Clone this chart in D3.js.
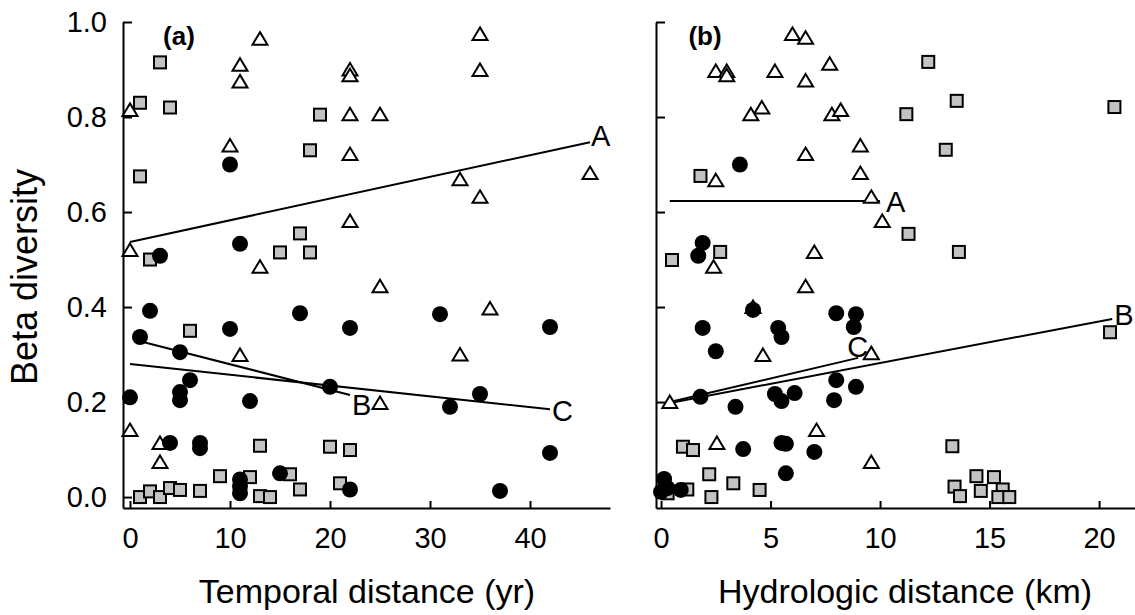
<!doctype html>
<html>
<head>
    <meta charset="utf-8" />
    <title>Beta diversity</title>
    <style>
        body { margin: 0; background: #fff; }
        svg text { font-family: "Liberation Sans", Arial, sans-serif; fill: #000; }
        .axis path, .axis line { stroke: #000; stroke-width: 2; }
        .circ { fill: #000; }
        .sq { fill: #c3c3c3; stroke: #000; stroke-width: 2; }
        .tri { fill: #fff; stroke: #000; stroke-width: 2; }
        .fit { stroke: #000; stroke-width: 2; fill: none; }
    </style>
</head>
<body>
    <script src="https://cdn.jsdelivr.net/npm/d3@7"></script>
    <script>
        // panel (a): temporal distance (yr) vs beta diversity
        var circlesA = [[10,0.70],[11,0.533],[3,0.508],[2,0.392],[1,0.337],[10,0.354],[17,0.387],[22,0.356],
            [5,0.305],[6,0.246],[5,0.221],[5,0.204],[0,0.21],[12,0.202],[20,0.232],[4,0.114],[7,0.114],
            [7,0.103],[11,0.037],[11,0.022],[11,0.008],[15,0.05],[22,0.016],[31,0.385],[42,0.358],
            [35,0.217],[32,0.19],[42,0.093],[37,0.013]];
        var squaresA = [[3,0.915],[1,0.83],[4,0.82],[1,0.675],[19,0.805],[18,0.73],[17,0.555],[15,0.515],
            [18,0.515],[2,0.50],[6,0.35],[13,0.108],[20,0.106],[22,0.099],[9,0.044],[12,0.042],[16,0.048],
            [21,0.029],[1,0.0],[2,0.012],[3,0.0],[4,0.019],[5,0.015],[7,0.013],[13,0.002],[14,0.0],[17,0.016]];
        var trianglesA = [[0,0.815],[13,0.965],[11,0.91],[11,0.875],[10,0.74],[22,0.90],[22,0.888],[22,0.806],
            [25,0.806],[22,0.722],[22,0.581],[0,0.52],[13,0.485],[25,0.444],[35,0.975],[35,0.899],[33,0.669],
            [46,0.682],[35,0.632],[36,0.397],[33,0.30],[25,0.198],[11,0.299],[0,0.141],[3,0.114],[3,0.074]];
        var linesA = [
            { name: "A", pts: [[0,0.537],[46,0.747]] },
            { name: "B", pts: [[1,0.328],[22,0.215]] },
            { name: "C", pts: [[0,0.28],[42,0.185]] }
        ];

        // panel (b): hydrologic distance (km) vs beta diversity
        var circlesB = [[3.6,0.70],[1.9,0.535],[1.7,0.508],[4.2,0.394],[1.9,0.356],[5.35,0.356],[5.5,0.337],
            [2.5,0.307],[8.0,0.387],[8.9,0.385],[8.8,0.358],[1.8,0.211],[3.4,0.19],[5.2,0.217],[5.5,0.202],
            [6.1,0.219],[8.0,0.246],[8.9,0.232],[7.9,0.204],[3.75,0.101],[5.5,0.114],[5.7,0.112],[7.0,0.095],
            [5.7,0.05],[0.14,0.038],[0.0,0.011],[0.3,0.019],[0.9,0.015]];
        var squaresB = [[1.8,0.676],[2.7,0.516],[0.5,0.499],[12.2,0.916],[13.5,0.834],[11.2,0.806],[20.7,0.821],
            [13.0,0.731],[11.3,0.554],[13.6,0.516],[20.5,0.347],[13.3,0.107],[14.4,0.044],[15.2,0.042],
            [13.4,0.022],[13.65,0.002],[14.6,0.013],[15.6,0.016],[15.4,0.0],[15.9,0.0],[1.0,0.106],[1.46,0.099],
            [2.2,0.048],[3.3,0.029],[4.5,0.015],[1.2,0.016],[2.3,0.0],[0.3,0.008]];
        var trianglesB = [[6.0,0.975],[6.6,0.967],[7.7,0.912],[2.5,0.897],[3.0,0.897],[3.0,0.888],[5.2,0.897],
            [6.6,0.877],[4.6,0.82],[4.1,0.806],[7.8,0.806],[8.2,0.815],[9.1,0.74],[6.6,0.722],[9.1,0.682],
            [2.5,0.667],[9.6,0.632],[10.1,0.581],[7.0,0.516],[2.4,0.485],[6.6,0.444],[4.65,0.299],[0.4,0.2],
            [9.6,0.303],[2.55,0.114],[7.1,0.141],[9.6,0.074],[4.2,0.40]];
        var linesB = [
            { name: "A", pts: [[0.4,0.623],[10,0.623]] },
            { name: "B", pts: [[0.4,0.198],[20.6,0.375]] },
            { name: "C", pts: [[0.4,0.2],[9,0.293]] }
        ];

        var yTicks = [0, 0.2, 0.4, 0.6, 0.8, 1.0];
        var xTicksA = [0, 10, 20, 30, 40];
        var xTicksB = [0, 5, 10, 15, 20];

        var w = 1135, h = 615;
        var svg = d3.select("body").append("svg").attr("width", w).attr("height", h);

        var y = d3.scaleLinear().domain([-0.023, 1.0]).range([508, 22]);

        var panels = [
            { x: d3.scaleLinear().domain([-0.7, 48]).range([123, 610]), ticks: xTicksA, left: 123,
              circ: circlesA, sq: squaresA, tri: trianglesA, lines: linesA, tag: "(a)", tagX: 179,
              labelOff: { A: [1, -7], B: [2, 10], C: [2, 1] }, yLabels: true },
            { x: d3.scaleLinear().domain([-0.23, 21.64]).range([656, 1135]), ticks: xTicksB, left: 656,
              circ: circlesB, sq: squaresB, tri: trianglesB, lines: linesB, tag: "(b)", tagX: 705,
              labelOff: { A: [6, 0], B: [2, -4], C: [-11, -11] }, yLabels: false }
        ];

        var triPath = "M0,-6.5L7.5,6L-7.5,6Z";

        panels.forEach(function(p) {
            var g = svg.append("g");

            g.append("g").attr("class", "axis").attr("transform", "translate(0,508)")
                .call(d3.axisBottom(p.x).tickValues(p.ticks).tickSizeInner(-7).tickSizeOuter(0).tickPadding(19))
                .selectAll("text").style("font-size", "29px");

            var ya = d3.axisLeft(y).tickValues(yTicks).tickSizeInner(-9).tickSizeOuter(0).tickPadding(16);
            ya.tickFormat(p.yLabels ? d3.format(".1f") : "");
            g.append("g").attr("class", "axis").attr("transform", "translate(" + p.left + ",0)").call(ya)
                .selectAll("text").style("font-size", "29px");

            g.selectAll("path.fit").data(p.lines).enter().append("path").attr("class", "fit")
                .attr("d", function(d) { return d3.line().x(function(v) { return p.x(v[0]); }).y(function(v) { return y(v[1]); })(d.pts); });

            g.selectAll("text.fitlab").data(p.lines).enter().append("text").attr("class", "fitlab")
                .attr("x", function(d) { return p.x(d.pts[1][0]) + p.labelOff[d.name][0]; })
                .attr("y", function(d) { return y(d.pts[1][1]) + p.labelOff[d.name][1]; })
                .attr("dy", "0.36em").style("font-size", "29px")
                .text(function(d) { return d.name; });

            g.selectAll("rect.sq").data(p.sq).enter().append("rect").attr("class", "sq")
                .attr("x", function(d) { return p.x(d[0]) - 6; })
                .attr("y", function(d) { return y(d[1]) - 6; })
                .attr("width", 12).attr("height", 12);

            g.selectAll("path.tri").data(p.tri).enter().append("path").attr("class", "tri")
                .attr("d", triPath)
                .attr("transform", function(d) { return "translate(" + p.x(d[0]) + "," + y(d[1]) + ")"; });

            g.selectAll("circle.circ").data(p.circ).enter().append("circle").attr("class", "circ")
                .attr("cx", function(d) { return p.x(d[0]); })
                .attr("cy", function(d) { return y(d[1]); })
                .attr("r", 8);

            g.append("text").attr("x", p.tagX).attr("y", 45).attr("text-anchor", "middle")
                .style("font-size", "26px").style("font-weight", "bold").text(p.tag);
        });

        svg.append("text").attr("x", 367).attr("y", 603).attr("text-anchor", "middle")
            .style("font-size", "34px").text("Temporal distance (yr)");
        svg.append("text").attr("x", 905).attr("y", 603).attr("text-anchor", "middle")
            .style("font-size", "34px").text("Hydrologic distance (km)");
        svg.append("text").attr("transform", "translate(37,277) rotate(-90)").attr("text-anchor", "middle")
            .style("font-size", "36px").text("Beta diversity");
    </script>
</body>
</html>
